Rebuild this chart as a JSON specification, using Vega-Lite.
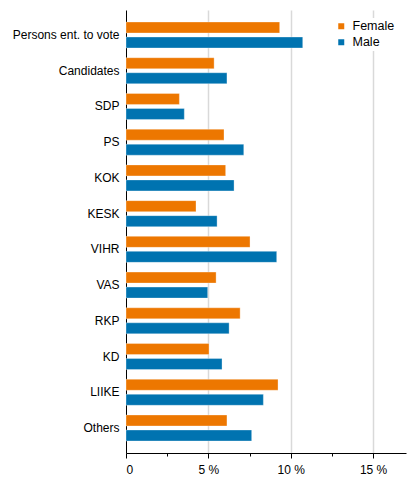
{
  "$schema": "https://vega.github.io/schema/vega-lite/v6.json",
  "autosize": {"type": "none"},
  "width": 280,
  "height": 443,
  "padding": {"left": 126, "top": 10, "right": 10, "bottom": 38},
  "background": "white",
  "config": {
    "view": {"stroke": null},
    "font": "Liberation Sans",
    "axis": {"labelFont": "Liberation Sans", "labelFontSize": 12, "labelColor": "#000"},
    "legend": {"labelFont": "Liberation Sans"}
  },
  "data": {
    "values": [
      {"category": "Persons ent. to vote", "sex": "Female", "value": 9.33},
      {"category": "Persons ent. to vote", "sex": "Male", "value": 10.73},
      {"category": "Candidates", "sex": "Female", "value": 5.35},
      {"category": "Candidates", "sex": "Male", "value": 6.13},
      {"category": "SDP", "sex": "Female", "value": 3.24},
      {"category": "SDP", "sex": "Male", "value": 3.54},
      {"category": "PS", "sex": "Female", "value": 5.95},
      {"category": "PS", "sex": "Male", "value": 7.15},
      {"category": "KOK", "sex": "Female", "value": 6.05},
      {"category": "KOK", "sex": "Male", "value": 6.56},
      {"category": "KESK", "sex": "Female", "value": 4.25},
      {"category": "KESK", "sex": "Male", "value": 5.53},
      {"category": "VIHR", "sex": "Female", "value": 7.53},
      {"category": "VIHR", "sex": "Male", "value": 9.15},
      {"category": "VAS", "sex": "Female", "value": 5.47},
      {"category": "VAS", "sex": "Male", "value": 4.96},
      {"category": "RKP", "sex": "Female", "value": 6.93},
      {"category": "RKP", "sex": "Male", "value": 6.26},
      {"category": "KD", "sex": "Female", "value": 5.04},
      {"category": "KD", "sex": "Male", "value": 5.83},
      {"category": "LIIKE", "sex": "Female", "value": 9.23},
      {"category": "LIIKE", "sex": "Male", "value": 8.34},
      {"category": "Others", "sex": "Female", "value": 6.13},
      {"category": "Others", "sex": "Male", "value": 7.63}
    ]
  },
  "mark": {"type": "bar", "stroke": "white", "strokeOpacity": 0.4, "strokeWidth": 0.8},
  "encoding": {
    "y": {
      "field": "category",
      "type": "nominal",
      "sort": null,
      "scale": {"paddingInner": 0.272, "paddingOuter": 0.336},
      "axis": {
        "title": null,
        "ticks": false,
        "labelPadding": 7,
        "domainColor": "#000",
        "domainWidth": 1
      }
    },
    "yOffset": {
      "field": "sex",
      "type": "nominal",
      "sort": ["Female", "Male"],
      "scale": {"paddingInner": 0.267, "paddingOuter": 0}
    },
    "x": {
      "field": "value",
      "type": "quantitative",
      "scale": {"domain": [0, 17], "nice": false},
      "axis": {
        "title": null,
        "values": [0, 2.5, 5, 7.5, 10, 12.5, 15],
        "labelExpr": "datum.value % 5 !== 0 ? '' : (datum.value === 0 ? '0' : datum.value + ' %')",
        "domainColor": "#000",
        "tickColor": "#000",
        "tickSize": {"condition": {"test": "datum.value % 5 !== 0", "value": 3}, "value": 5},
        "labelPadding": 6,
        "grid": true,
        "gridColor": "#d9d9d9",
        "gridWidth": 1.5,
        "gridOpacity": {"condition": {"test": "datum.value % 5 !== 0 || datum.value === 0", "value": 0}, "value": 1}
      }
    },
    "color": {
      "field": "sex",
      "type": "nominal",
      "sort": ["Female", "Male"],
      "scale": {"domain": ["Female", "Male"], "range": ["#ED7700", "#0073B0"]},
      "legend": {
        "title": null,
        "orient": "none",
        "legendX": 207,
        "legendY": 8,
        "symbolType": "square",
        "symbolSize": 36,
        "symbolStrokeWidth": 0,
        "labelFontSize": 12.5,
        "labelColor": "#000",
        "labelOffset": 5,
        "rowPadding": 3,
        "fillColor": "white",
        "padding": 2
      }
    }
  }
}
